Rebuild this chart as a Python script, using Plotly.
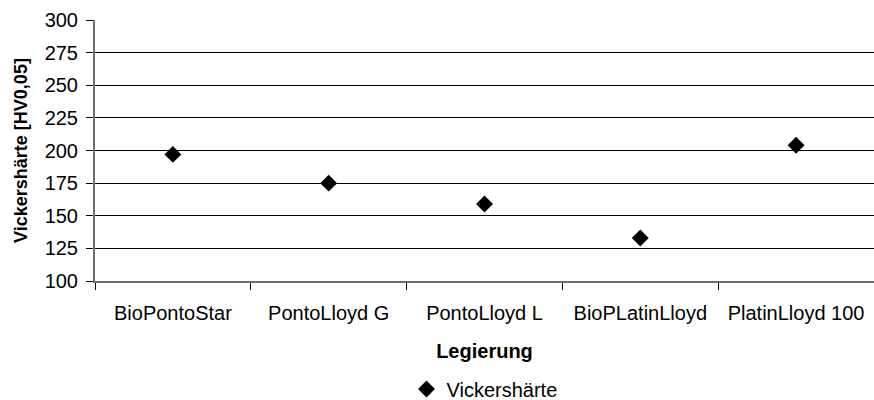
import plotly.graph_objects as go

categories = ["BioPontoStar", "PontoLloyd G", "PontoLloyd L", "BioPLatinLloyd", "PlatinLloyd 100"]
values = [197, 175, 159, 133, 204]
series_name = "Vickershärte"
y_ticks = [100, 125, 150, 175, 200, 225, 250, 275, 300]

font_family = "Liberation Sans, Arial, sans-serif"

fig = go.Figure()
fig.add_trace(go.Scatter(
    x=categories, y=values, mode="markers", name=series_name,
    marker=dict(symbol="diamond", size=13, color="black"),
    showlegend=True,
))

fig.update_layout(
    width=874, height=400,
    margin=dict(l=95, r=0, t=20, b=119, autoexpand=False),
    paper_bgcolor="white", plot_bgcolor="white",
    font=dict(family=font_family, size=20, color="black"),
    showlegend=True,
    legend=dict(orientation="h", x=0.5, xanchor="center", y=-0.414, yanchor="middle",
                font=dict(size=20), itemwidth=30, tracegroupgap=0),
)
fig.update_xaxes(
    type="category", range=[-0.5, 4.5], automargin=False,
    tickson="boundaries", ticks="outside", ticklen=7, tickcolor="black", tickwidth=1,
    showline=True, linecolor="#6e6e6e", linewidth=2,
    showgrid=False, zeroline=False,
    tickfont=dict(size=20), ticklabelstandoff=13,
    title=dict(text="<b>Legierung</b>", font=dict(size=20), standoff=21),
)
fig.update_yaxes(
    range=[100, 300], tickvals=y_ticks, automargin=False,
    ticks="outside", ticklen=7, tickcolor="black", tickwidth=1,
    showline=True, linecolor="#6e6e6e", linewidth=2,
    showgrid=True, gridcolor="black", gridwidth=1, zeroline=False,
    tickfont=dict(size=20), ticklabelstandoff=4,
    title=dict(text="<b>Vickershärte [HV0,05]</b>", font=dict(size=18), standoff=12),
)

fig.write_html("out.html")
